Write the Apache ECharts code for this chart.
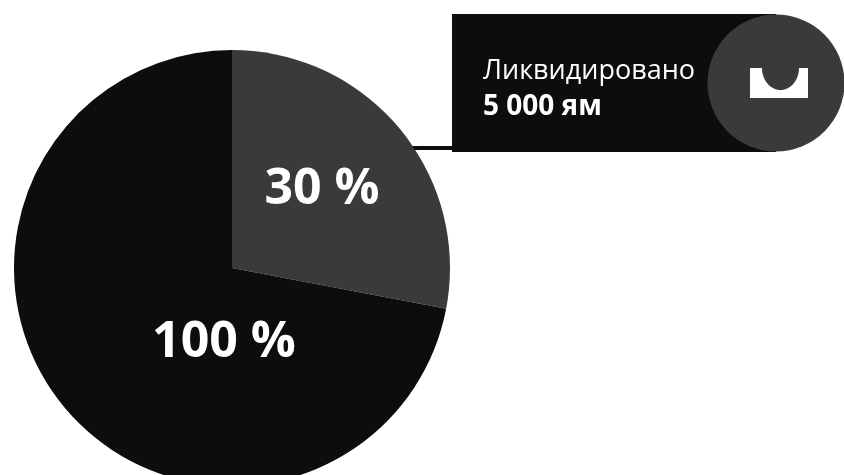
<!DOCTYPE html>
<html><head><meta charset="utf-8">
<style>html,body{margin:0;padding:0;background:#fff}#c{width:844px;height:475px}</style>
<script src="https://cdn.jsdelivr.net/npm/echarts@6/dist/echarts.min.js"></script>
</head><body><div id="c"></div>
<script>
const sliceNames = ['30 %', '100 %'];
const sliceValues = [28, 72];
const sliceColors = ['#3a3a3a', '#0d0d0d'];
const calloutTitle = 'Ликвидировано';
const calloutValue = '5 000 ям';
const chart = echarts.init(document.getElementById('c'), null, {renderer:'canvas'});
const font = '"Open Sans", "Noto Sans", sans-serif';
const labelSpots = [[322,190],[224,343]];
chart.setOption({
  animation:false,
  backgroundColor:'#fff',
  graphic:[
    {type:'rect',z:1,shape:{x:412,y:146,width:44,height:4},style:{fill:'#0d0d0d'}},
    {type:'rect',z:1,shape:{x:452,y:14,width:324,height:138},style:{fill:'#0d0d0d'}},
    {type:'circle',z:2,shape:{cx:776,cy:83,r:68.5},style:{fill:'#3a3a3a'}},
    {type:'rect',z:3,shape:{x:750,y:68,width:58,height:30},style:{fill:'#fff'}},
    {type:'ellipse',z:4,shape:{cx:780.5,cy:68,rx:18.5,ry:22},style:{fill:'#3a3a3a'}},
    {type:'text',z:3,style:{x:483,y:71,text:calloutTitle,fill:'#fff',font:'27px '+font,textVerticalAlign:'middle'}},
    {type:'text',z:3,style:{x:483,y:107,text:calloutValue,fill:'#fff',font:'bold 28px '+font,textVerticalAlign:'middle'}}
  ],
  series:[{
    type:'pie',
    center:[232,268],
    radius:[0,218],
    startAngle:90,
    clockwise:true,
    silent:true,
    labelLine:{show:false},
    labelLayout:p=>({x:labelSpots[p.dataIndex][0],y:labelSpots[p.dataIndex][1],align:'center',verticalAlign:'middle'}),
    data:sliceNames.map((n,i)=>({
      name:n,value:sliceValues[i],
      itemStyle:{color:sliceColors[i]},
      label:{show:true,position:'inside',formatter:'{b}',color:'#fff',fontFamily:font,fontWeight:'bold',fontSize:50}
    }))
  }]
});
</script></body></html>
